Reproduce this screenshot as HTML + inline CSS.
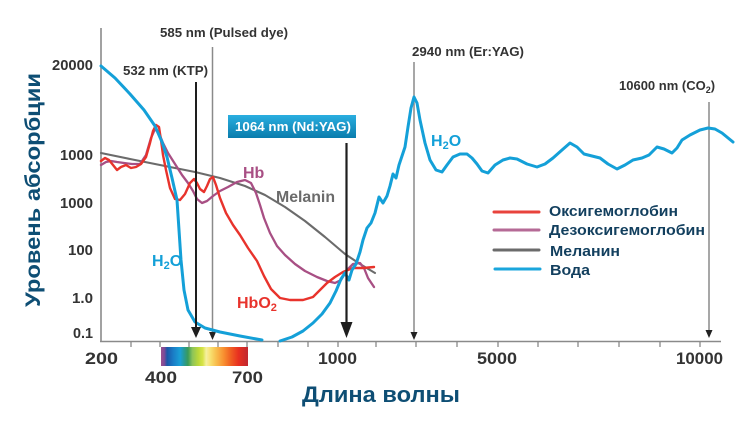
<!DOCTYPE html>
<html><head><meta charset="utf-8"><style>
html,body{margin:0;padding:0;background:#fff;}
svg{display:block;}
text{font-family:"Liberation Sans",Arial,sans-serif;font-weight:bold;}
</style></head><body>
<svg width="752" height="422" viewBox="0 0 752 422" xmlns="http://www.w3.org/2000/svg">
<defs>
<linearGradient id="spec" x1="0" x2="1" y1="0" y2="0">
<stop offset="0" stop-color="#9a5090"/>
<stop offset="0.04" stop-color="#7a4a98"/>
<stop offset="0.07" stop-color="#1a58a8"/>
<stop offset="0.14" stop-color="#1a7cc6"/>
<stop offset="0.22" stop-color="#1aa0d6"/>
<stop offset="0.27" stop-color="#2a9a90"/>
<stop offset="0.31" stop-color="#3a9a58"/>
<stop offset="0.36" stop-color="#8cc45a"/>
<stop offset="0.43" stop-color="#bcd83a"/>
<stop offset="0.48" stop-color="#d8e448"/>
<stop offset="0.52" stop-color="#f6f0a0"/>
<stop offset="0.57" stop-color="#f8e070"/>
<stop offset="0.63" stop-color="#f8c050"/>
<stop offset="0.72" stop-color="#f89030"/>
<stop offset="0.80" stop-color="#f06022"/>
<stop offset="0.89" stop-color="#e83020"/>
<stop offset="1" stop-color="#c02830"/>
</linearGradient>
<linearGradient id="box" x1="0" x2="0" y1="0" y2="1">
<stop offset="0" stop-color="#2aaee0"/>
<stop offset="1" stop-color="#0a7cac"/>
</linearGradient>
</defs>

<!-- axes -->
<line x1="101" y1="28" x2="101" y2="342" stroke="#8a8a8a" stroke-width="1.6"/>
<line x1="100" y1="341.5" x2="721" y2="341.5" stroke="#8a8a8a" stroke-width="1.6"/>
<g stroke="#8a8a8a" stroke-width="1.3">
<line x1="131" y1="341" x2="131" y2="347"/><line x1="160" y1="341" x2="160" y2="347"/>
<line x1="189" y1="341" x2="189" y2="347"/><line x1="218" y1="341" x2="218" y2="347"/>
<line x1="247" y1="341" x2="247" y2="347"/><line x1="278" y1="341" x2="278" y2="347"/>
<line x1="308" y1="341" x2="308" y2="347"/><line x1="338" y1="341" x2="338" y2="347"/>
<line x1="376" y1="341" x2="376" y2="347"/><line x1="416" y1="341" x2="416" y2="347"/>
<line x1="457" y1="341" x2="457" y2="347"/><line x1="498" y1="341" x2="498" y2="347"/>
<line x1="538" y1="341" x2="538" y2="347"/><line x1="578" y1="341" x2="578" y2="347"/>
<line x1="619" y1="341" x2="619" y2="347"/><line x1="660" y1="341" x2="660" y2="347"/>
<line x1="700" y1="341" x2="700" y2="347"/>
</g>

<!-- y tick labels -->
<g fill="#333" font-size="14.5" text-anchor="end">
<text x="93" y="70" textLength="41" lengthAdjust="spacingAndGlyphs">20000</text>
<text x="93" y="160" textLength="33" lengthAdjust="spacingAndGlyphs">1000</text>
<text x="93" y="208" textLength="33" lengthAdjust="spacingAndGlyphs">1000</text>
<text x="93" y="255" textLength="25" lengthAdjust="spacingAndGlyphs">100</text>
<text x="93" y="303" textLength="21" lengthAdjust="spacingAndGlyphs">1.0</text>
<text x="93" y="338" textLength="20" lengthAdjust="spacingAndGlyphs">0.1</text>
</g>

<!-- x tick labels -->
<g fill="#333" font-size="17">
<text x="85" y="364" textLength="33" lengthAdjust="spacingAndGlyphs">200</text>
<text x="318" y="364" textLength="39" lengthAdjust="spacingAndGlyphs">1000</text>
<text x="477" y="364" textLength="40" lengthAdjust="spacingAndGlyphs">5000</text>
<text x="676" y="364" textLength="47" lengthAdjust="spacingAndGlyphs">10000</text>
<text x="145" y="383" textLength="32" lengthAdjust="spacingAndGlyphs">400</text>
<text x="232" y="383" textLength="31" lengthAdjust="spacingAndGlyphs">700</text>
</g>

<!-- spectrum bar -->
<rect x="161" y="347" width="87" height="19" fill="url(#spec)"/>

<!-- axis titles -->
<text transform="translate(40,307) rotate(-90)" fill="#0e4e74" font-size="21" textLength="234" lengthAdjust="spacingAndGlyphs">Уровень абсорбции</text>
<text x="302" y="402" fill="#0e4e74" font-size="22" textLength="158" lengthAdjust="spacingAndGlyphs">Длина волны</text>

<!-- laser lines -->
<line x1="212.5" y1="47" x2="212.5" y2="334" stroke="#8a8a8a" stroke-width="1.5"/>
<polygon points="209,332 216,332 212.5,340" fill="#222"/>
<line x1="414" y1="62" x2="414" y2="334" stroke="#8a8a8a" stroke-width="1.5"/>
<polygon points="410.5,332 417.5,332 414,340" fill="#222"/>
<line x1="709" y1="102" x2="709" y2="332" stroke="#8a8a8a" stroke-width="1.5"/>
<polygon points="705.5,330 712.5,330 709,338" fill="#222"/>

<!-- curves -->
<g fill="none" stroke-linejoin="round" stroke-linecap="round">
<polyline stroke="#6b6b6b" stroke-width="2.1" points="101,153 130,159 160,165 195,172 220,178 245,186 265,195 285,207 305,221 325,237 345,254 360,264 375,273"/>
<polyline stroke="#a84f84" stroke-width="2.3" points="101,165 106,162 111,161 117,162 124,163 132,164 140,164 146,155 151,138 155,129 159,133 163,143 168,153 175,164 182,175 188,183 193,191 197,199 202,203 207,201 213,196 220,191 228,187 237,182 245,180 251,183 256,193 260,205 264,218 270,233 277,246 285,255 295,264 305,271 317,277 327,281 335,283 341,280 347,270 353,264 360,263 364,268 368,278 374,287"/>
<polyline stroke="#e8332c" stroke-width="2.4" points="101,161 105,158 109,160 113,165 117,170 121,167 126,165 131,168 136,167 141,164 146,157 150,143 153,131 156,125 159,127 161,140 163,155 166,170 170,188 175,199 180,200 185,194 190,183 194,179 197,183 200,189 204,192 207,186 210,179 213,177 216,185 220,198 226,213 233,225 240,235 248,248 257,261 264,276 271,289 280,298 290,300 303,300 313,297 320,290 327,283 335,277 343,272 353,268 363,268 374,267"/>
<polyline stroke="#14a0d8" stroke-width="3" points="101,66 115,78 130,94 144,110 155,126 162,142 167,157 172,178 177,200 179,230 181,260 184,290 188,310 195,322 205,328 220,332 240,336 262,340"/>
<polyline stroke="#14a0d8" stroke-width="3" points="280,341 292,337 303,331 313,323 322,314 330,303 336,291 341,279 345,273 349,280 352,270 356,264 360,252 363,240 367,228 371,223 375,213 379,197 383,203 387,196 390,186 393,174 396,178 399,165 402,156 405,147 408,127 411,108 414,97 417,103 420,120 425,143 430,160 436,170 442,172 447,165 453,157 460,154 467,154 472,158 477,164 482,171 488,173 495,165 503,160 510,158 517,159 527,164 537,167 545,164 553,158 562,150 570,143 577,147 584,154 592,156 600,158 608,164 617,169 625,165 633,160 642,158 649,155 657,147 664,149 672,153 677,148 682,140 690,135 700,130 708,128 715,129 722,133 733,142"/>
</g>

<!-- black arrows -->
<line x1="196" y1="82" x2="196" y2="330" stroke="#1e1e1e" stroke-width="2"/>
<polygon points="191,327 201,327 196,338" fill="#1e1e1e"/>
<line x1="346.5" y1="143" x2="346.5" y2="325" stroke="#1e1e1e" stroke-width="2.2"/>
<polygon points="340.5,322 352.5,322 346.5,338" fill="#1e1e1e"/>

<!-- laser labels -->
<g fill="#333" font-size="13">
<text x="160" y="37" textLength="128" lengthAdjust="spacingAndGlyphs">585 nm (Pulsed dye)</text>
<text x="123" y="75" textLength="85" lengthAdjust="spacingAndGlyphs">532 nm (KTP)</text>
<text x="412" y="56" textLength="112" lengthAdjust="spacingAndGlyphs">2940 nm (Er:YAG)</text>
<text x="619" y="90">10600 nm (CO<tspan font-size="9" dy="3">2</tspan><tspan dy="-3">)</tspan></text>
</g>
<rect x="228" y="115" width="128" height="23" fill="url(#box)"/>
<text x="235" y="131" fill="#fff" font-size="13" textLength="116" lengthAdjust="spacingAndGlyphs">1064 nm (Nd:YAG)</text>

<!-- curve labels -->
<text x="243" y="178" fill="#a84f84" font-size="16">Hb</text>
<text x="276" y="202" fill="#6b6b6b" font-size="16" textLength="59" lengthAdjust="spacingAndGlyphs">Melanin</text>
<text x="237" y="308" fill="#e8332c" font-size="16">HbO<tspan font-size="11" dy="3">2</tspan></text>
<text x="152" y="266" fill="#14a0d8" font-size="16">H<tspan font-size="11" dy="3">2</tspan><tspan dy="-3">O</tspan></text>
<text x="431" y="146" fill="#14a0d8" font-size="16">H<tspan font-size="11" dy="3">2</tspan><tspan dy="-3">O</tspan></text>

<!-- legend -->
<g stroke-width="3" stroke-linecap="round">
<line x1="494" y1="212" x2="539" y2="212" stroke="#e8433c"/>
<line x1="494" y1="230" x2="539" y2="230" stroke="#b56a96"/>
<line x1="494" y1="250" x2="539" y2="250" stroke="#6b6b6b"/>
<line x1="495" y1="269" x2="540" y2="269" stroke="#1aa6dc"/>
</g>
<g fill="#123f5e" font-size="14.5">
<text x="549" y="216" textLength="129" lengthAdjust="spacingAndGlyphs">Оксигемоглобин</text>
<text x="549" y="235" textLength="156" lengthAdjust="spacingAndGlyphs">Дезоксигемоглобин</text>
<text x="550" y="256" textLength="70" lengthAdjust="spacingAndGlyphs">Меланин</text>
<text x="550" y="275" textLength="40" lengthAdjust="spacingAndGlyphs">Вода</text>
</g>
</svg>
</body></html>
